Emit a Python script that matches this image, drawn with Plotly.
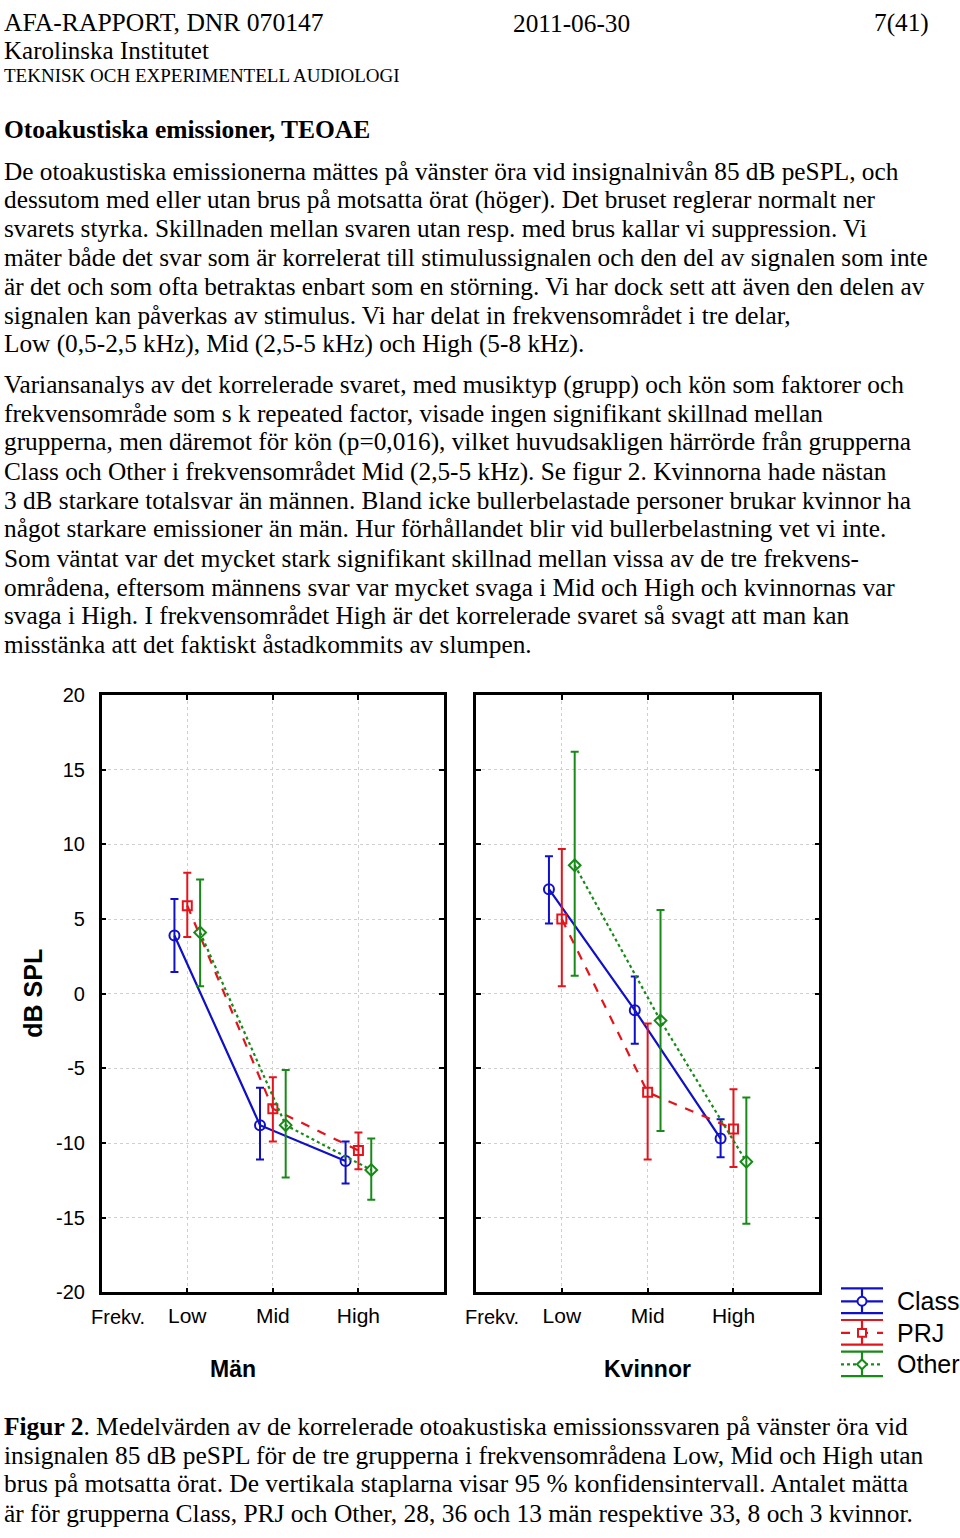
import plotly.graph_objects as go

W, H = 960, 1538
def PX(x): return x / W
def PY(y): return 1 - y / H

SERIF = "Liberation Serif"
SANS = "Liberation Sans"

# ---------------- data ----------------
freq_labels = ["Low", "Mid", "High"]
freq_pos = [1, 2, 3]
groups = ["Class", "PRJ", "Other"]
group_offset = [-0.15, 0.0, 0.15]

men_class_mean = [3.9, -8.8, -11.2]
men_class_lo = [1.45, -11.1, -12.7]
men_class_hi = [6.35, -6.3, -9.9]
men_prj_mean = [5.9, -7.7, -10.5]
men_prj_lo = [3.8, -9.9, -11.75]
men_prj_hi = [8.1, -5.6, -9.3]
men_other_mean = [4.1, -8.8, -11.8]
men_other_lo = [0.5, -12.3, -13.8]
men_other_hi = [7.65, -5.1, -9.7]

kv_class_mean = [7.0, -1.1, -9.7]
kv_class_lo = [4.7, -3.35, -10.95]
kv_class_hi = [9.2, 1.15, -8.4]
kv_prj_mean = [5.0, -6.6, -9.05]
kv_prj_lo = [0.5, -11.1, -11.6]
kv_prj_hi = [9.7, -2.0, -6.4]
kv_other_mean = [8.6, -1.8, -11.25]
kv_other_lo = [1.2, -9.2, -15.4]
kv_other_hi = [16.2, 5.6, -6.95]

y_ticks = [-20, -15, -10, -5, 0, 5, 10, 15, 20]
y_ticktext = ["-20", "-15", "-10", "-5", "0", "5", "10", "15", "20"]

colors = ["#1010c8", "#e4141c", "#178a17"]
dashes = ["solid", "dash", "dot"]
symbols = ["circle-open", "square-open", "diamond-open"]
msizes = [10, 9, 9]

men = [(men_class_mean, men_class_lo, men_class_hi),
       (men_prj_mean, men_prj_lo, men_prj_hi),
       (men_other_mean, men_other_lo, men_other_hi)]
kv = [(kv_class_mean, kv_class_lo, kv_class_hi),
      (kv_prj_mean, kv_prj_lo, kv_prj_hi),
      (kv_other_mean, kv_other_lo, kv_other_hi)]

fig = go.Figure()

for panel, (xa, ya) in zip([men, kv], [("x", "y"), ("x2", "y2")]):
    for gi, (mean, lo, hi) in enumerate(panel):
        xs = [p + group_offset[gi] for p in freq_pos]
        fig.add_trace(go.Scatter(
            x=xs, y=mean, xaxis=xa, yaxis=ya, mode="lines+markers",
            name=groups[gi], showlegend=False,
            line=dict(color=colors[gi], width=2.2, dash=dashes[gi]),
            marker=dict(symbol=symbols[gi], size=msizes[gi], color=colors[gi],
                        line=dict(color=colors[gi], width=2)),
            error_y=dict(type="data", symmetric=False,
                         array=[h - m for h, m in zip(hi, mean)],
                         arrayminus=[m - l for m, l in zip(mean, lo)],
                         color=colors[gi], thickness=2, width=4),
        ))

axis_common = dict(showline=True, linecolor="black", linewidth=2.5, mirror="ticks",
                   ticks="inside", ticklen=5, tickwidth=2, tickcolor="black",
                   showgrid=True, gridcolor="#cfcfcf", griddash="dot", gridwidth=1,
                   zeroline=False, fixedrange=True)

xdomL = [PX(101.7), PX(444)]
xdomR = [PX(476), PX(819.3)]
ydom = [PY(1300), PY(694)]

fig.update_layout(
    width=W, height=H, margin=dict(l=0, r=0, t=0, b=0),
    paper_bgcolor="white", plot_bgcolor="white", showlegend=False,
    xaxis=dict(domain=xdomL, range=[0, 4], tickvals=freq_pos, ticktext=freq_labels,
               tickfont=dict(family=SANS, size=21, color="black"), ticklabelstandoff=3,
               anchor="y", **axis_common),
    yaxis=dict(domain=ydom, range=[-20, 20], tickvals=y_ticks, ticktext=y_ticktext,
               tickfont=dict(family=SANS, size=20, color="black"), ticklabelstandoff=10,
               anchor="x", **axis_common),
    xaxis2=dict(domain=xdomR, range=[0, 4], tickvals=freq_pos, ticktext=freq_labels,
                tickfont=dict(family=SANS, size=21, color="black"), ticklabelstandoff=3,
                anchor="y2", **axis_common),
    yaxis2=dict(domain=ydom, range=[-20, 20], tickvals=y_ticks, showticklabels=False,
                anchor="x2", **axis_common),
)

ann = []
def txt(x, y, s, size=25.3, family=SERIF, xanchor="left", color="black", angle=0):
    ann.append(dict(x=PX(x), y=PY(y), xref="paper", yref="paper", text=s,
                    showarrow=False, xanchor=xanchor, yanchor="middle",
                    font=dict(family=family, size=size, color=color), textangle=angle))

# header
txt(2, 12, "AFA-RAPPORT, DNR 070147", size=25.6)
txt(571, 12, "2011-06-30", xanchor="center")
txt(931, 12, "7(41)", xanchor="right")
txt(2, 40, "Karolinska Institutet", size=25)
txt(2, 65, "TEKNISK OCH EXPERIMENTELL AUDIOLOGI", size=19)
txt(2, 120, "<b>Otoakustiska emissioner, TEOAE</b>", size=25.5)

para1 = [
    "De otoakustiska emissionerna mättes på vänster öra vid insignalnivån 85 dB peSPL, och",
    "dessutom med eller utan brus på motsatta örat (höger). Det bruset reglerar normalt ner",
    "svarets styrka. Skillnaden mellan svaren utan resp. med brus kallar vi suppression. Vi",
    "mäter både det svar som är korrelerat till stimulussignalen och den del av signalen som inte",
    "är det och som ofta betraktas enbart som en störning. Vi har dock sett att även den delen av",
    "signalen kan påverkas av stimulus. Vi har delat in frekvensområdet i tre delar,",
    "Low (0,5-2,5 kHz), Mid (2,5-5 kHz) och High (5-8 kHz).",
]
p1_y = [162, 191, 220, 250, 279, 308, 337]
for s, y in zip(para1, p1_y):
    txt(2, y, s)

para2 = [
    "Variansanalys av det korrelerade svaret, med musiktyp (grupp) och kön som faktorer och",
    "frekvensområde som s k repeated factor, visade ingen signifikant skillnad mellan",
    "grupperna, men däremot för kön (p=0,016), vilket huvudsakligen härrörde från grupperna",
    "Class och Other i frekvensområdet Mid (2,5-5 kHz). Se figur 2. Kvinnorna hade nästan",
    "3 dB starkare totalsvar än männen. Bland icke bullerbelastade personer brukar kvinnor ha",
    "något starkare emissioner än män. Hur förhållandet blir vid bullerbelastning vet vi inte.",
    "Som väntat var det mycket stark signifikant skillnad mellan vissa av de tre frekvens-",
    "områdena, eftersom männens svar var mycket svaga i Mid och High och kvinnornas var",
    "svaga i High. I frekvensområdet High är det korrelerade svaret så svagt att man kan",
    "misstänka att det faktiskt åstadkommits av slumpen.",
]
p2_y = [379, 408, 437, 467, 496, 525, 555, 584, 613, 642]
for s, y in zip(para2, p2_y):
    txt(2, y, s)

caption = [
    "<b>Figur 2</b>. Medelvärden av de korrelerade otoakustiska emissionssvaren på vänster öra vid",
    "insignalen 85 dB peSPL för de tre grupperna i frekvensområdena Low, Mid och High utan",
    "brus på motsatta örat. De vertikala staplarna visar 95 % konfidensintervall. Antalet mätta",
    "är för grupperna Class, PRJ och Other, 28, 36 och 13 män respektive 33, 8 och 3 kvinnor.",
]
cap_y = [1436, 1465, 1494, 1524]
for s, y in zip(caption, cap_y):
    txt(2, y, s, size=25.45)

# chart texts
txt(33, 997, "<b>dB SPL</b>", size=25, family=SANS, xanchor="center", angle=-90)
txt(118, 1325, "Frekv.", size=20, family=SANS, xanchor="center")
txt(492, 1325, "Frekv.", size=20, family=SANS, xanchor="center")
txt(233, 1378, "<b>Män</b>", size=23, family=SANS, xanchor="center")
txt(647, 1378, "<b>Kvinnor</b>", size=23, family=SANS, xanchor="center")

# legend
shapes = []
leg_mid = [1309, 1341, 1373]
lx0, lx1, lxc = 841, 883, 862
for gi in range(3):
    c = colors[gi]
    ym = leg_mid[gi]
    yt, yb = ym - 13, ym + 12
    for yy in (yt, yb):
        shapes.append(dict(type="line", xref="paper", yref="paper",
                           x0=PX(lx0), x1=PX(lx1), y0=PY(yy), y1=PY(yy),
                           line=dict(color=c, width=2.2)))
    shapes.append(dict(type="line", xref="paper", yref="paper",
                       x0=PX(lxc), x1=PX(lxc), y0=PY(yt), y1=PY(yb),
                       line=dict(color=c, width=2.2)))
    shapes.append(dict(type="line", xref="paper", yref="paper",
                       x0=PX(lx0), x1=PX(lx1), y0=PY(ym), y1=PY(ym),
                       line=dict(color=c, width=2.2, dash=dashes[gi])))
    r = 4.5
    if gi == 0:
        shapes.append(dict(type="circle", xref="paper", yref="paper",
                           x0=PX(lxc - r), x1=PX(lxc + r), y0=PY(ym - r), y1=PY(ym + r),
                           line=dict(color=c, width=2), fillcolor="white"))
    elif gi == 1:
        shapes.append(dict(type="rect", xref="paper", yref="paper",
                           x0=PX(lxc - 4), x1=PX(lxc + 4), y0=PY(ym - 4), y1=PY(ym + 4),
                           line=dict(color=c, width=2), fillcolor="white"))
    else:
        d = 5
        path = (f"M {PX(lxc)} {PY(ym - d)} L {PX(lxc + d)} {PY(ym)} "
                f"L {PX(lxc)} {PY(ym + d)} L {PX(lxc - d)} {PY(ym)} Z")
        shapes.append(dict(type="path", xref="paper", yref="paper", path=path,
                           line=dict(color=c, width=2), fillcolor="white"))
    txt(895, ym, groups[gi], size=25, family=SANS)

fig.update_layout(annotations=ann, shapes=shapes)
fig.write_html("out.html")
